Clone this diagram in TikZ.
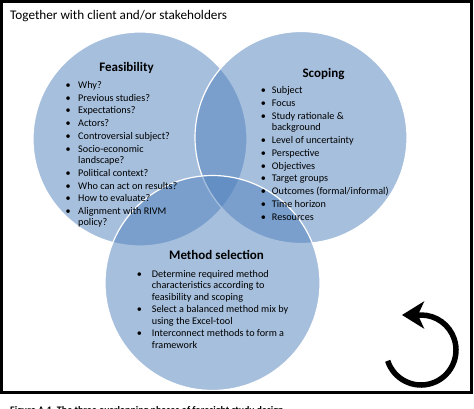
\documentclass[tikz,border=0pt]{standalone}
\usepackage{fontspec}
\setmainfont{Carlito}
\usetikzlibrary{arrows.meta,calc}
\definecolor{vennblue}{RGB}{79,129,189}
\newcommand\bul{\leavevmode\hbox to 0pt{\hss\textbullet\hss}}
\tikzset{
  venn/.style={fill=vennblue,fill opacity=0.5,draw=white,line width=1.2pt},
  head/.style={font=\fontsize{13}{15}\selectfont\bfseries,inner sep=0pt,anchor=base},
  listtext/.style={font=\fontsize{10.2}{11.2}\selectfont,inner sep=0pt,anchor=base west,align=left},
}
\begin{document}
\begin{tikzpicture}[x=1pt,y=-1pt]
\useasboundingbox (0,0) rectangle (474,409);
\fill[white] (0,0) rectangle (474,409);
% circles
\draw[venn] (140,139) circle[radius=107pt];
\draw[venn] (301,137.5) circle[radius=106pt];
\draw[venn] (212.5,283) circle[radius=107.5pt];
% frame
\draw[line width=3pt] (1.5,1.5) rectangle (471.5,392.5);
% title
\node[font=\fontsize{13.2}{16}\selectfont,inner sep=0pt,anchor=base west] (title) at (10,20) {Together with client and/or stakeholders};
% headings
\node[head] (feash) at (126.5,71.7) {Feasibility};
\node[head] (scoph) at (323.5,77.3) {Scoping};
\node[head] (methh) at (216.5,259.3) {Method selection};
% lists
\node[listtext] (feasl) at (68,88.3) {\def\arraystretch{1}\begin{tabular}[t]{@{}p{10pt}@{}l@{}}
\bul & Why?\\[1.6pt]
\bul & Previous studies?\\[1.6pt]
\bul & Expectations?\\[1.6pt]
\bul & Actors?\\[1.6pt]
\bul & Controversial subject?\\[1.6pt]
\bul & Socio-economic\\
     & landscape?\\[1.6pt]
\bul & Political context?\\[1.6pt]
\bul & Who can act on results?\\[1.6pt]
\bul & How to evaluate?\\[1.6pt]
\bul & Alignment with RIVM\\
     & policy?
\end{tabular}};
\node[listtext] (scopl) at (263.3,94) {\def\arraystretch{1}\begin{tabular}[t]{@{}p{8.4pt}@{}l@{}}
\bul & Subject\\[1.6pt]
\bul & Focus\\[1.6pt]
\bul & Study rationale \&\\
     & background\\[1.6pt]
\bul & Level of uncertainty\\[1.6pt]
\bul & Perspective\\[1.6pt]
\bul & Objectives\\[1.6pt]
\bul & Target groups\\[1.6pt]
\bul & Outcomes (formal/informal)\\[1.6pt]
\bul & Time horizon\\[1.6pt]
\bul & Resources
\end{tabular}};
\node[listtext] (methl) at (139.3,277.7) {\def\arraystretch{1}\begin{tabular}[t]{@{}p{12.4pt}@{}l@{}}
\bul & Determine required method\\
     & characteristics according to\\
     & feasibility and scoping\\[1.6pt]
\bul & Select a balanced method mix by\\
     & using the Excel-tool\\[1.6pt]
\bul & Interconnect methods to form a\\
     & framework
\end{tabular}};
% cycle arrow
\coordinate (cyc) at (421,350);
\draw[line width=5.5pt,-{Stealth[length=22pt,width=27pt,inset=6pt]}] ($(cyc)+(162:35)$) arc[start angle=162,end angle=-90,radius=35] -- ++(-19,0);
% caption (cut off)
\node[font=\fontsize{10}{12}\selectfont\bfseries,inner sep=0pt,anchor=base west] (cap) at (10,413) {Figure A.1\enspace The three overlapping phases of foresight study design};
\end{tikzpicture}
\end{document}
